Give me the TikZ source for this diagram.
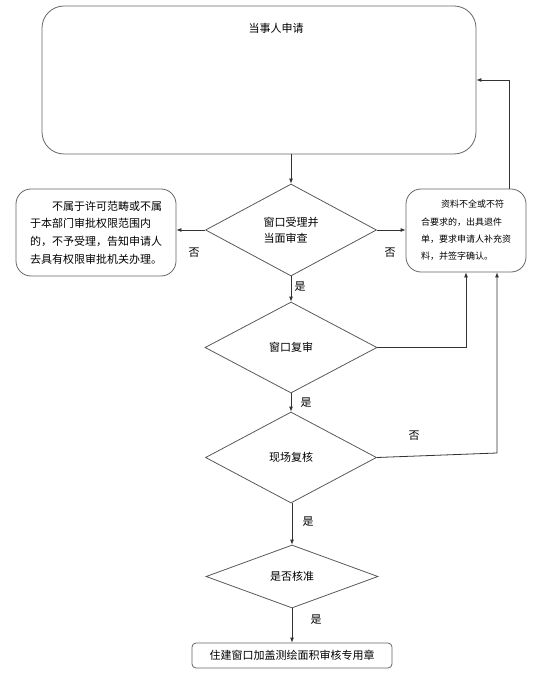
\documentclass[tikz,border=0pt]{standalone}
\usepackage{fontspec}
\newfontfamily\cjk{Noto Sans CJK SC}
\usetikzlibrary{arrows.meta, positioning, shapes.geometric, calc}

\begin{document}
\begin{tikzpicture}[x=1pt, y=-1pt,
    every node/.style={font=\cjk\fontsize{11}{16}\selectfont, inner sep=0pt},
    roundbox/.style={draw=black!60, line width=0.8pt, rounded corners=#1},
    roundbox/.default=15pt,
    decision/.style={diamond, draw=black!65, line width=0.8pt, inner sep=0pt, align=left},
    arr/.style={draw=black!80, line width=0.8pt, -{Latex[length=5pt, width=4pt]}}]
    \useasboundingbox (0,0) rectangle (554,676);

    \node[roundbox=22pt, minimum width=434pt, minimum height=148pt] (apply) at (259,80) {};
    \node (applytext) at (276,28) {当事人申请};
    \node[decision, minimum width=171pt, minimum height=92pt] (check) at (291,230) {窗口受理并\\当面审查};
    \node[roundbox, minimum width=160pt, minimum height=87pt, align=left, font=\cjk\fontsize{11}{17.7}\selectfont] (reject) at (96,232.5) {\hspace*{22pt}不属于许可范畴或不属\\于本部门审批权限范围内\\的，不予受理，告知申请人\\去具有权限审批机关办理。};
    \node[roundbox, minimum width=120pt, minimum height=83pt, align=left, font=\cjk\fontsize{9}{17.3}\selectfont] (supply) at (466,230.5) {\hspace*{20pt}资料不全或不符\\合要求的，出具退件\\单，要求申请人补充资\\料，并签字确认。};
    \node[decision, minimum width=172pt, minimum height=91pt] (review) at (291,347.5) {\raisebox{-5pt}{窗口复审}};
    \node[decision, minimum width=171pt, minimum height=91pt] (site) at (291,457.5) {\raisebox{-6pt}{现场复核}};
    \node[decision, minimum width=172pt, minimum height=63pt] (approve) at (292,576.5) {是否核准};
    \node[roundbox=4pt, minimum width=200pt, minimum height=25pt] (seal) at (292,655.5) {住建窗口加盖测绘面积审核专用章};

    \node (no1) at (194,253) {否};
    \node (no2) at (390,253) {否};
    \node (yes1) at (300,287) {是};
    \node (yes2) at (306,403) {是};
    \node (no3) at (414,436) {否};
    \node (yes3) at (308,522) {是};
    \node (yes4) at (316,620) {是};

    \draw[arr] (check.north |- apply.south) -- (check.north);
    \draw[arr] (check.west) -- (check.west -| reject.east);
    \draw[arr] (check.east) -- (check.east -| supply.west);
    \draw[arr] ([xshift=43pt]supply.north) |- (apply.east);
    \draw[arr] (check.south) -- (review.north);
    \draw[arr] (review.east) -| (supply.south);
    \draw[arr] (review.south) -- (site.north);
    \coordinate (bend) at (497,453);
    \draw[arr] (site.east) -- (bend) -- (bend |- supply.south);
    \draw[arr] (approve.north |- site.south) -- (approve.north);
    \draw[arr] (approve.south) -- (seal.north);
\end{tikzpicture}
\end{document}
